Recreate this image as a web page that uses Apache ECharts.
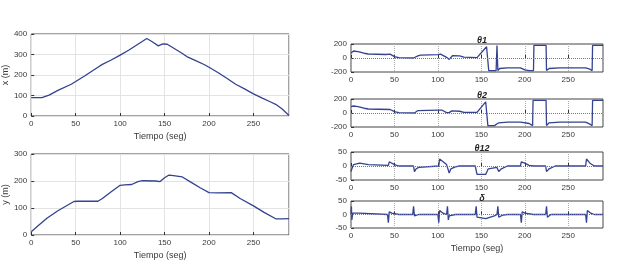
<!DOCTYPE html>
<html>
<head>
<meta charset="UTF-8">
<title>Trayectoria</title>
<script src="https://cdn.jsdelivr.net/npm/echarts@6/dist/echarts.min.js"></script>
<style>
  body { margin: 0; background: #fff; }
  #main { width: 622px; height: 271px; }
</style>
</head>
<body>
<div id="main"></div>
<script>
// posicion x (m) vs tiempo
var posX = [[0,90],[12,90],[20,102],[30,125],[45,155],[50,168],[60,195],[75,238],[80,252],[90,273],[100,297],
  [110,322],[120,350],[130,378],[137,360],[143,342],[148,352],[153,350],[160,332],[170,305],[175,290],
  [185,270],[195,250],[200,238],[210,212],[220,184],[230,155],[240,132],[250,108],[260,87],[270,67],
  [275,57],[282,35],[290,2]];
// posicion y (m) vs tiempo
var posY = [[0,12],[8,35],[18,63],[30,90],[48,124],[52,125],[75,125],[80,135],[90,160],[100,184],[105,186],
  [113,187],[120,198],[125,201],[140,200],[145,198],[150,212],[155,222],[160,220],[170,215],[180,195],
  [190,175],[200,157],[210,156],[225,157],[235,135],[250,108],[262,84],[275,60],[282,60],[290,61]];
var theta1 = [[0,70],[3,100],[8,92],[15,68],[20,57],[40,50],[45,55],[50,20],[55,5],[72,0],[74,-15],[77,30],
  [80,42],[100,48],[103,55],[110,10],[113,-20],[117,35],[125,30],[130,12],[145,5],[147,20],[156,160],
  [158,180],[158.5,-180],[167,-180],[168,180],[169,-180],[171,-150],[180,-142],[195,-140],[200,-170],
  [205,-180],[210,-180],[210.5,180],[224.5,180],[225,-180],[228,-150],[240,-140],[270,-140],[275,-160],
  [277.5,-180],[278,180],[290,180]];
var theta2 = [[0,90],[3,100],[8,92],[15,68],[20,57],[45,50],[50,20],[55,5],[73,0],[77,35],[100,40],[105,40],
  [110,5],[113,5],[116,30],[125,25],[130,8],[145,10],[155,160],[157,180],[157.5,-180],[165,-180],[170,-140],
  [180,-130],[195,-130],[205,-150],[209,-180],[209.5,180],[224.5,180],[225,-180],[228,-140],[240,-130],
  [270,-130],[275,-160],[277.5,-180],[278,180],[290,180]];
var theta12 = [[0,-20],[1,-10],[3,5],[5,10],[10,10],[20,5],[43,2],[44,15],[46,14],[50,5],[55,0],[72,0],
  [73,-20],[75,-10],[78,-5],[80,0],[101,0],[102,25],[106,15],[110,5],[113,-25],[115,-10],[120,-3],[125,0],
  [143,0],[145,-30],[155,-30],[157,-25],[158,-10],[168,-5],[170,-20],[173,-10],[180,0],[195,0],[196,15],
  [200,10],[205,2],[210,0],[224,0],[225,-20],[228,-10],[235,0],[270,0],[271,25],[275,10],[280,0],[290,0]];
var delta = [[0,0],[0.5,30],[1,-20],[2,5],[10,5],[42,0],[43,-30],[44,10],[47,5],[55,0],[71,0],[72,30],[73,-5],
  [78,0],[100,0],[101,-30],[102,15],[106,5],[110,0],[111,30],[112,-20],[113,-5],[120,0],[143,0],[144,30],
  [145,-10],[155,-15],[165,-5],[168,0],[169,30],[170,-10],[175,-2],[180,0],[195,0],[196,-30],[197,10],
  [200,5],[210,0],[224,0],[225,30],[226,-10],[230,0],[270,0],[271,-30],[272,15],[276,5],[280,0],[290,0]];
var rightTitles = ['θ1', 'θ2', 'θ12', 'δ'];

var lineColor = '#34428f';
var txt = '#3a3a3a';
var myChart = echarts.init(document.getElementById('main'));

var grids = [
  {left: 31, top: 34, width: 258, height: 82},
  {left: 31, top: 154, width: 258, height: 81},
  {left: 351, top: 44, width: 252, height: 28},
  {left: 351, top: 99, width: 252, height: 28},
  {left: 351, top: 152, width: 252, height: 28},
  {left: 351, top: 201, width: 252, height: 27}
];
grids.forEach(function(g) {
  g.show = true; g.borderColor = '#444'; g.borderWidth = 1; g.backgroundColor = '#fff';
});

function xAx(i, named, right) {
  return {
    type: 'value', gridIndex: i, min: 0, max: 290, interval: 50,
    name: named ? 'Tiempo (seg)' : '', nameLocation: 'middle', nameGap: 16,
    nameTextStyle: {fontSize: 9, color: txt, fontFamily: 'Liberation Sans'},
    axisLine: {show: false},
    axisTick: {show: true, inside: true, length: 3, lineStyle: {color: '#333'}},
    axisLabel: {fontSize: 8, color: txt, margin: 4, fontFamily: 'Liberation Sans',
      showMaxLabel: false},
    splitLine: right ? {show: true, lineStyle: {color: '#aaa', type: 'dotted'}}
                     : {show: true, lineStyle: {color: '#e3e3e3'}}
  };
}
function yAx(i, min, max, step, name, right) {
  return {
    type: 'value', gridIndex: i, min: min, max: max, interval: step,
    name: name, nameLocation: 'middle', nameGap: 19,
    nameTextStyle: {fontSize: 9, color: txt, fontFamily: 'Liberation Sans'},
    axisLine: {show: false},
    axisTick: {show: true, inside: true, length: 3, lineStyle: {color: '#333'}},
    axisLabel: {fontSize: 8, color: txt, margin: 4, fontFamily: 'Liberation Sans'},
    splitLine: right ? {show: false} : {show: true, lineStyle: {color: '#e3e3e3'}}
  };
}

function lineSeries(i, data, zero) {
  var s = {
    type: 'line', xAxisIndex: i, yAxisIndex: i, data: data,
    showSymbol: false, symbol: 'none', animation: false,
    lineStyle: {color: lineColor, width: 1.3}
  };
  if (zero) {
    s.markLine = {
      silent: true, symbol: 'none', label: {show: false},
      lineStyle: {color: '#6676c4', type: 'dotted', width: 1},
      data: [{yAxis: 0}]
    };
  }
  return s;
}

var titlePos = [38, 93, 146, 196];
var option = {
  animation: false,
  backgroundColor: '#fff',
  title: rightTitles.map(function(t, k) {
    return {
      text: t, left: 477, top: titlePos[k] - 7, textAlign: 'center',
      textStyle: {fontSize: 9, fontWeight: 'bold', fontStyle: 'italic', color: '#222',
        fontFamily: 'Liberation Sans'}
    };
  }),
  grid: grids,
  xAxis: [xAx(0, true, false), xAx(1, true, false), xAx(2, false, true),
          xAx(3, false, true), xAx(4, false, true), xAx(5, true, true)],
  yAxis: [yAx(0, 0, 400, 100, 'x (m)', false), yAx(1, 0, 300, 100, 'y (m)', false),
          yAx(2, -200, 200, 200, '', true), yAx(3, -200, 200, 200, '', true),
          yAx(4, -50, 50, 50, '', true), yAx(5, -50, 50, 50, '', true)],
  series: [
    lineSeries(0, posX, false), lineSeries(1, posY, false),
    lineSeries(2, theta1, true), lineSeries(3, theta2, true),
    lineSeries(4, theta12, true), lineSeries(5, delta, true)
  ]
};
myChart.setOption(option);
</script>
</body>
</html>
